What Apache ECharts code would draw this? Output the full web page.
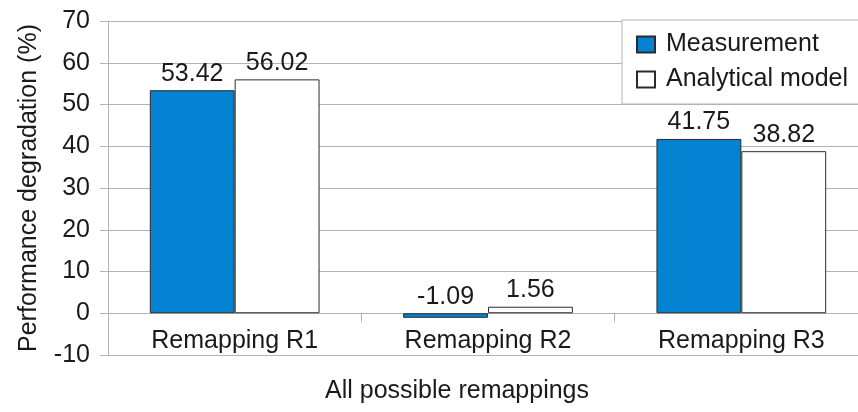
<!DOCTYPE html>
<html>
<head>
<meta charset="utf-8">
<script src="https://cdn.jsdelivr.net/npm/echarts@6/dist/echarts.min.js"></script>
<style>
  html, body { margin: 0; padding: 0; background: #fff; overflow: hidden; }
  #chart { width: 868px; height: 412px; }
</style>
</head>
<body>
<div id="chart"></div>
<script>
// Remapping scenarios and their degradation values (%)
const categories = ['Remapping R1', 'Remapping R2', 'Remapping R3'];
const measurement = [53.42, -1.09, 41.75];
const analyticalModel = [56.02, 1.56, 38.82];
const yTicks = { min: -10, max: 70, step: 10 };

const FONT = '"Liberation Sans", Arial, sans-serif';
const GRID_COLOR = '#b3b3b3';
const TEXT_COLOR = '#1a1a1a';

const chart = echarts.init(document.getElementById('chart'));

const valueLabel = {
  show: true,
  position: 'top',
  distance: 4,
  fontFamily: FONT,
  fontSize: 25,
  color: TEXT_COLOR,
  formatter: p => p.value.toFixed(2)
};

chart.setOption({
  animation: false,
  backgroundColor: '#ffffff',
  textStyle: { fontFamily: FONT },
  title: {
    text: 'All possible remappings',
    left: 325,
    top: 379,
    padding: 0,
    textStyle: { fontFamily: FONT, fontSize: 25, fontWeight: 'normal', color: TEXT_COLOR }
  },
  legend: {
    orient: 'vertical',
    left: 622,
    top: 20,
    padding: [12, 40, 12, 14],
    itemGap: 10,
    itemWidth: 18,
    itemHeight: 16,
    backgroundColor: '#ffffff',
    borderColor: GRID_COLOR,
    borderWidth: 1,
    textStyle: { fontFamily: FONT, fontSize: 25, color: TEXT_COLOR, padding: [0, 0, 0, 6] },
    data: [
      { name: 'Measurement', icon: 'rect' },
      { name: 'Analytical model', icon: 'rect' }
    ]
  },
  grid: { left: 108, right: 0, top: 21, bottom: 57 },
  xAxis: {
    type: 'category',
    data: categories,
    axisLine: { onZero: true, lineStyle: { color: GRID_COLOR, width: 1 } },
    axisTick: { show: true, length: 9, lineStyle: { color: GRID_COLOR } },
    axisLabel: { fontFamily: FONT, fontSize: 25, color: TEXT_COLOR, margin: -26 },
    splitLine: { show: false }
  },
  yAxis: {
    type: 'value',
    min: yTicks.min,
    max: yTicks.max,
    interval: yTicks.step,
    name: 'Performance degradation (%)',
    nameLocation: 'middle',
    nameGap: 66,
    nameTextStyle: { fontFamily: FONT, fontSize: 25, color: TEXT_COLOR },
    axisLine: { show: true, lineStyle: { color: GRID_COLOR, width: 1 } },
    axisTick: { show: true, length: 8, lineStyle: { color: GRID_COLOR } },
    axisLabel: { fontFamily: FONT, fontSize: 25, color: TEXT_COLOR, margin: 18 },
    splitLine: { show: true, lineStyle: { color: GRID_COLOR, width: 1 } }
  },
  series: [
    {
      name: 'Measurement',
      type: 'bar',
      data: measurement,
      barGap: '0%',
      barCategoryGap: '33%',
      itemStyle: { color: '#0382d1', borderColor: '#2b2b2b', borderWidth: 1 },
      label: valueLabel
    },
    {
      name: 'Analytical model',
      type: 'bar',
      data: analyticalModel,
      barGap: '0%',
      barCategoryGap: '33%',
      itemStyle: { color: '#ffffff', borderColor: '#2b2b2b', borderWidth: 1 },
      label: valueLabel
    }
  ]
});
</script>
</body>
</html>
